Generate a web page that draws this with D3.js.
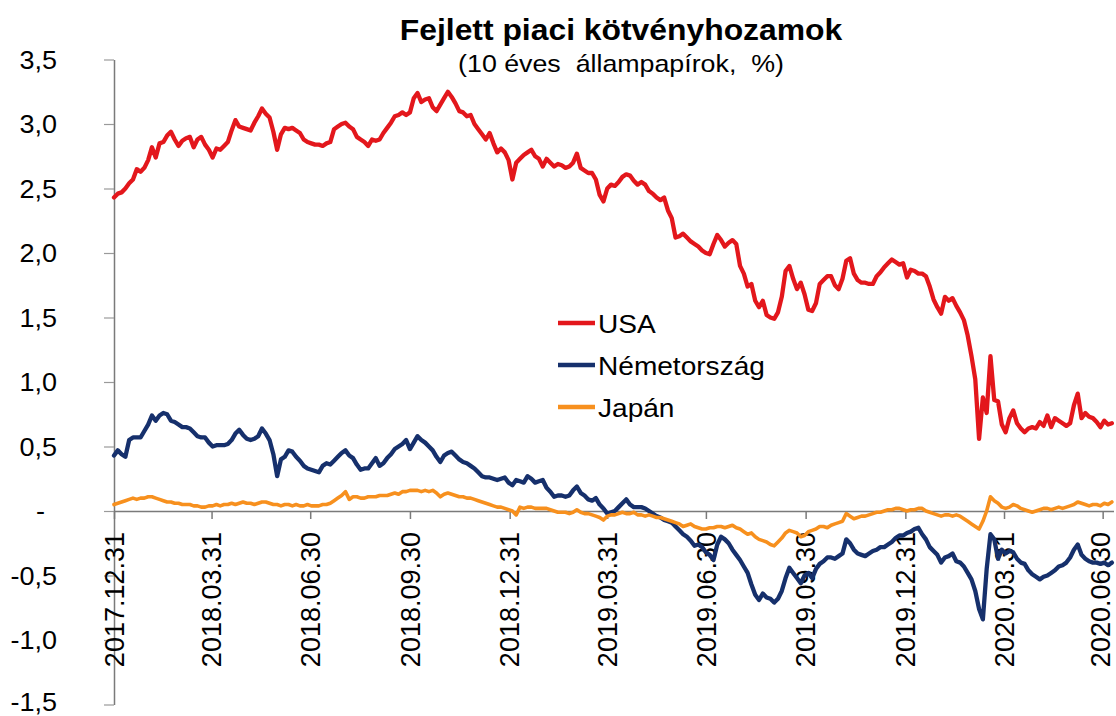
<!DOCTYPE html>
<html>
<head>
<meta charset="utf-8">
<script src="https://cdn.jsdelivr.net/npm/d3@7"></script>
<style>
  body { margin: 0; background: #fff; }
  text { font-family: "Liberation Sans", Arial, sans-serif; fill: #000; }
</style>
</head>
<body>
<script>
const WIDTH = 1116
const HEIGHT = 716

// one reading every 3.5 days from the start date
const START = '2017.12.31'
const END = '2020.07.10'
const STEP_DAYS = 3.5

const SERIES_NAMES = ['USA', 'Németország', 'Japán']
const COLORS = ['#e3171c', '#16306c', '#f7901e']

const X_TICKS = ['2017.12.31', '2018.03.31', '2018.06.30', '2018.09.30', '2018.12.31',
  '2019.03.31', '2019.06.30', '2019.09.30', '2019.12.31', '2020.03.31', '2020.06.30']
const Y_TICKS = [3.5, 3, 2.5, 2, 1.5, 1, 0.5, 0, -0.5, -1, -1.5]

const usa = [
  2.43, 2.46, 2.47, 2.50, 2.54, 2.57, 2.65, 2.63, 2.66,
  2.72, 2.82, 2.74, 2.85, 2.86, 2.91, 2.94, 2.88,
  2.83, 2.87, 2.89, 2.90, 2.82, 2.88, 2.90, 2.84, 2.80,
  2.74, 2.81, 2.80, 2.83, 2.86, 2.95, 3.03, 2.98, 2.97,
  2.96, 2.95, 3.01, 3.06, 3.12, 3.08, 3.05, 2.94, 2.80,
  2.92, 2.97, 2.96, 2.97, 2.95, 2.93, 2.88, 2.86,
  2.85, 2.84, 2.84, 2.83, 2.85, 2.86, 2.96, 2.98, 3.00,
  3.01, 2.98, 2.96, 2.90, 2.88, 2.86, 2.83, 2.88, 2.87,
  2.88, 2.93, 2.97, 3.01, 3.06, 3.07, 3.09, 3.07, 3.09,
  3.20, 3.24, 3.17, 3.19, 3.20, 3.13, 3.10, 3.15,
  3.20, 3.25, 3.21, 3.16, 3.10, 3.09, 3.06, 3.07, 3.00,
  2.96, 2.92, 2.88, 2.93, 2.85, 2.78, 2.81, 2.78, 2.72,
  2.57, 2.70, 2.73, 2.76, 2.78, 2.80, 2.75, 2.73, 2.67,
  2.73, 2.70, 2.67, 2.69, 2.68, 2.66, 2.67, 2.70,
  2.77, 2.66, 2.64, 2.62, 2.62, 2.57, 2.45, 2.40, 2.50,
  2.53, 2.52, 2.55, 2.59, 2.61, 2.60, 2.56, 2.53,
  2.55, 2.53, 2.48, 2.46, 2.43, 2.41, 2.43, 2.33, 2.27,
  2.12, 2.13, 2.15, 2.12, 2.09, 2.07, 2.05, 2.02, 2.00,
  1.99, 2.07, 2.14, 2.10, 2.05, 2.08, 2.10, 2.07, 1.90,
  1.84, 1.74, 1.76, 1.63, 1.58, 1.63, 1.52, 1.50,
  1.49, 1.54, 1.66, 1.86, 1.90, 1.80, 1.72, 1.77, 1.68,
  1.56, 1.55, 1.61, 1.76, 1.79, 1.82, 1.82, 1.75, 1.72,
  1.80, 1.94, 1.96, 1.84, 1.79, 1.77, 1.77, 1.76, 1.76,
  1.82, 1.85, 1.89, 1.92, 1.95, 1.93, 1.91, 1.92,
  1.81, 1.87, 1.86, 1.84, 1.84, 1.82, 1.74, 1.64, 1.58,
  1.53, 1.66, 1.63, 1.65, 1.59, 1.54, 1.48, 1.36,
  1.20, 1.02, 0.56, 0.88, 0.76, 1.20, 0.86, 0.85, 0.67,
  0.61, 0.72, 0.78, 0.68, 0.64, 0.61, 0.64, 0.65, 0.64,
  0.69, 0.66, 0.74, 0.65, 0.72, 0.70, 0.68, 0.66, 0.68,
  0.82, 0.91, 0.72, 0.76, 0.73, 0.72, 0.69, 0.65,
  0.70, 0.67, 0.68
]

const nemetorszag = [
  0.43, 0.47, 0.44, 0.42, 0.55, 0.57, 0.57, 0.57, 0.62,
  0.67, 0.74, 0.70, 0.74, 0.76, 0.75, 0.70, 0.69,
  0.67, 0.65, 0.65, 0.64, 0.61, 0.58, 0.57, 0.57, 0.53,
  0.50, 0.51, 0.51, 0.51, 0.52, 0.55, 0.60, 0.63, 0.59,
  0.56, 0.55, 0.56, 0.58, 0.64, 0.60, 0.55, 0.44, 0.27,
  0.40, 0.42, 0.47, 0.46, 0.42, 0.39, 0.35, 0.33,
  0.32, 0.31, 0.30, 0.35, 0.37, 0.36, 0.39, 0.42, 0.45,
  0.47, 0.43, 0.41, 0.36, 0.32, 0.33, 0.33, 0.37, 0.41,
  0.35, 0.37, 0.41, 0.44, 0.48, 0.50, 0.52, 0.55, 0.48,
  0.53, 0.58, 0.55, 0.53, 0.50, 0.47, 0.42, 0.38,
  0.43, 0.45, 0.46, 0.43, 0.40, 0.38, 0.37, 0.35, 0.33,
  0.30, 0.27, 0.26, 0.26, 0.25, 0.24, 0.25, 0.26, 0.22,
  0.20, 0.24, 0.23, 0.22, 0.27, 0.25, 0.22, 0.23, 0.24,
  0.18, 0.15, 0.11, 0.12, 0.12, 0.11, 0.12, 0.16,
  0.19, 0.14, 0.12, 0.09, 0.08, 0.10, 0.05, 0.02, -0.02,
  -0.01, 0.00, 0.03, 0.06, 0.09, 0.05, 0.03, 0.03,
  0.03, 0.02, 0.00, -0.02, -0.04, -0.05, -0.07, -0.08, -0.09,
  -0.12, -0.15, -0.18, -0.20, -0.23, -0.27, -0.26, -0.28, -0.32,
  -0.34, -0.38, -0.26, -0.20, -0.22, -0.25, -0.30, -0.34, -0.38,
  -0.43, -0.48, -0.57, -0.65, -0.69, -0.64, -0.67, -0.68,
  -0.71, -0.68, -0.62, -0.52, -0.44, -0.48, -0.52, -0.56, -0.50,
  -0.48, -0.52, -0.45, -0.41, -0.39, -0.36, -0.36, -0.37, -0.35,
  -0.33, -0.22, -0.25, -0.30, -0.33, -0.34, -0.35, -0.33, -0.31,
  -0.30, -0.28, -0.28, -0.26, -0.24, -0.21, -0.19, -0.19,
  -0.17, -0.16, -0.14, -0.13, -0.18, -0.22, -0.28, -0.31, -0.34,
  -0.40, -0.36, -0.35, -0.33, -0.39, -0.40, -0.43, -0.48,
  -0.53, -0.62, -0.76, -0.84, -0.45, -0.18, -0.22, -0.37, -0.30,
  -0.33, -0.31, -0.32, -0.37, -0.40, -0.41, -0.46, -0.49, -0.51,
  -0.53, -0.51, -0.50, -0.48, -0.46, -0.43, -0.42, -0.40, -0.36,
  -0.30, -0.26, -0.34, -0.37, -0.39, -0.40, -0.40, -0.41,
  -0.40, -0.42, -0.40
]

const japan = [
  0.05, 0.06, 0.07, 0.08, 0.09, 0.10, 0.09, 0.10, 0.10,
  0.11, 0.11, 0.10, 0.09, 0.08, 0.07, 0.07, 0.06,
  0.06, 0.05, 0.05, 0.05, 0.04, 0.04, 0.03, 0.03, 0.04,
  0.04, 0.05, 0.04, 0.05, 0.05, 0.06, 0.05, 0.06, 0.07,
  0.06, 0.06, 0.05, 0.06, 0.07, 0.07, 0.06, 0.05, 0.05,
  0.04, 0.05, 0.05, 0.04, 0.05, 0.04, 0.04, 0.05,
  0.04, 0.04, 0.04, 0.05, 0.05, 0.06, 0.08, 0.10, 0.12,
  0.15, 0.09, 0.11, 0.11, 0.10, 0.10, 0.11, 0.11, 0.11,
  0.12, 0.12, 0.12, 0.13, 0.14, 0.13, 0.15, 0.15, 0.16,
  0.16, 0.16, 0.15, 0.16, 0.15, 0.16, 0.14, 0.11,
  0.13, 0.14, 0.13, 0.12, 0.11, 0.11, 0.10, 0.10, 0.09,
  0.08, 0.07, 0.06, 0.05, 0.04, 0.03, 0.03, 0.02, 0.01,
  0.00, -0.03, 0.03, 0.02, 0.03, 0.03, 0.02, 0.02, 0.02,
  0.02, 0.01, 0.00, -0.01, -0.01, -0.01, -0.02, -0.01,
  0.01, -0.01, -0.02, -0.02, -0.03, -0.04, -0.05, -0.07, -0.04,
  -0.03, -0.03, -0.02, -0.01, -0.02, -0.02, -0.01, -0.03,
  -0.03, -0.04, -0.03, -0.04, -0.05, -0.05, -0.06, -0.07, -0.08,
  -0.09, -0.10, -0.12, -0.11, -0.10, -0.12, -0.13, -0.14, -0.14,
  -0.13, -0.13, -0.12, -0.12, -0.13, -0.12, -0.11, -0.13, -0.14,
  -0.16, -0.18, -0.17, -0.20, -0.22, -0.23, -0.24, -0.26,
  -0.27, -0.24, -0.21, -0.17, -0.15, -0.16, -0.17, -0.20, -0.19,
  -0.16, -0.15, -0.14, -0.12, -0.12, -0.13, -0.11, -0.10, -0.09,
  -0.08, -0.02, -0.04, -0.06, -0.05, -0.04, -0.04, -0.03, -0.02,
  -0.01, -0.01, 0.00, 0.01, 0.01, 0.02, 0.02, 0.01,
  0.00, 0.01, 0.01, 0.02, 0.02, 0.00, -0.01, -0.02, -0.03,
  -0.04, -0.03, -0.03, -0.04, -0.03, -0.04, -0.06, -0.08,
  -0.10, -0.12, -0.14, -0.08, 0.00, 0.11, 0.08, 0.06, 0.03,
  0.02, 0.03, 0.05, 0.04, 0.02, 0.01, 0.00, -0.01, 0.00,
  0.01, 0.02, 0.02, 0.01, 0.02, 0.03, 0.02, 0.03, 0.04,
  0.05, 0.07, 0.06, 0.05, 0.04, 0.05, 0.05, 0.04,
  0.06, 0.05, 0.07
]

const parseDate = d3.timeParse('%Y.%m.%d')
const startDate = parseDate(START)
const dateAt = i => new Date(startDate.getTime() + i * STEP_DAYS * 864e5)

const STRETCH = 1.08 // text in the original is a bit wide

const svg = d3.select('body')
  .append('svg')
  .attr('width', WIDTH)
  .attr('height', HEIGHT)

const x = d3.scaleTime()
  .domain([startDate, parseDate(END)])
  .range([114, 1113.5])

const y = d3.scaleLinear()
  .domain([-1.5, 3.5])
  .range([704.5, 59.5])

// title
svg.append('text')
  .attr('transform', `translate(621,40) scale(${STRETCH},1)`)
  .attr('text-anchor', 'middle')
  .attr('font-size', 29.5)
  .attr('font-weight', 'bold')
  .text('Fejlett piaci kötvényhozamok')

svg.append('text')
  .attr('transform', `translate(621,72) scale(${STRETCH},1)`)
  .attr('text-anchor', 'middle')
  .attr('font-size', 24.8)
  .style('white-space', 'pre')
  .text('(10 éves  állampapírok,  %)')

// y axis
const yAxis = svg.append('g')
  .attr('transform', `translate(${x.range()[0]},0)`)
  .call(d3.axisLeft(y)
    .tickValues(Y_TICKS)
    .tickSize(10)
    .tickSizeOuter(0)
    .tickFormat(d => d === 0 ? '-' : d.toFixed(1).replace('.', ',')))

yAxis.select('.domain').attr('stroke', '#7a7a7a').attr('stroke-width', 1.5)
yAxis.selectAll('.tick line').attr('stroke', '#9a9a9a').attr('stroke-width', 1.2)
yAxis.selectAll('.tick text')
  .attr('x', 0)
  .attr('dy', '0.35em')
  .attr('font-size', 25)
  .attr('font-family', '"Liberation Sans", Arial, sans-serif')
  .attr('fill', '#000')
  .attr('transform', d => `translate(${d === 0 ? -69 : -57},${d === -1.5 ? -3 : 0}) scale(${STRETCH},1)`)

// x axis on the zero line
const xAxis = svg.append('g')
  .attr('transform', `translate(0,${y(0)})`)
  .call(d3.axisBottom(x)
    .tickValues(X_TICKS.map(parseDate))
    .tickSize(8)
    .tickSizeOuter(0)
    .tickFormat(d3.timeFormat('%Y.%m.%d')))

xAxis.select('.domain').attr('stroke', '#7a7a7a').attr('stroke-width', 1.5)
xAxis.selectAll('.tick line').attr('stroke', '#7a7a7a').attr('stroke-width', 1.5)
xAxis.selectAll('.tick text')
  .attr('transform', 'rotate(-90)')
  .attr('x', -21)
  .attr('y', 0)
  .attr('dy', (d, i) => i === X_TICKS.length - 1 ? '0.24em' : '0.34em')
  .attr('text-anchor', 'end')
  .attr('font-size', 27)
  .attr('font-family', '"Liberation Sans", Arial, sans-serif')
  .attr('fill', '#000')

// lines
const seriesData = [usa, nemetorszag, japan].map((vals, k) => ({
  name: SERIES_NAMES[k],
  color: COLORS[k],
  values: vals.map((v, i) => ({ date: dateAt(i), value: v }))
}))

const line = d3.line()
  .x(d => x(d.date))
  .y(d => y(d.value))

svg.append('g')
  .selectAll('path')
  .data(seriesData)
  .enter()
  .append('path')
  .attr('d', d => line(d.values))
  .attr('fill', 'none')
  .attr('stroke', d => d.color)
  .attr('stroke-width', (d, i) => i === 2 ? 3.6 : 4.3)
  .attr('stroke-linejoin', 'round')
  .attr('stroke-linecap', 'round')

// legend
const legend = svg.append('g')
  .attr('transform', 'translate(558,323)')

const ROW = 42

legend.selectAll('line')
  .data(seriesData)
  .enter()
  .append('line')
  .attr('x1', 0)
  .attr('x2', 37)
  .attr('y1', (d, i) => i * ROW)
  .attr('y2', (d, i) => i * ROW)
  .attr('stroke', d => d.color)
  .attr('stroke-width', 4.5)

legend.selectAll('text')
  .data(seriesData)
  .enter()
  .append('text')
  .attr('transform', (d, i) => `translate(40,${i * ROW + 10}) scale(${STRETCH},1)`)
  .attr('font-size', 26)
  .text(d => d.name)
</script>
</body>
</html>
